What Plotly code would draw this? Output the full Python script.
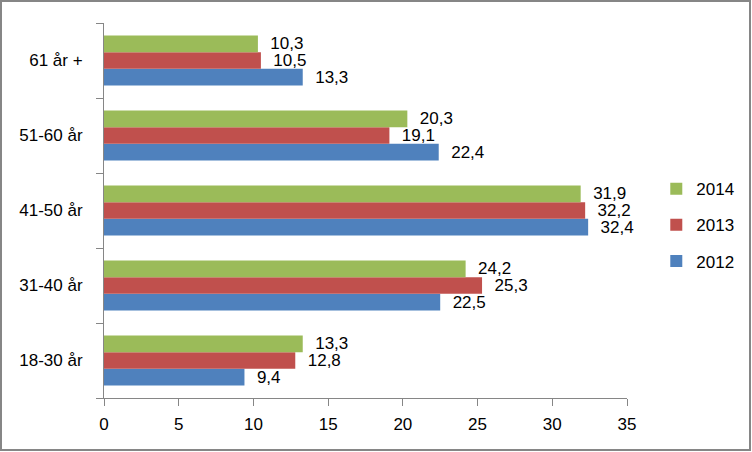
import plotly.graph_objects as go

categories = ["18-30 år", "31-40 år", "41-50 år", "51-60 år", "61 år +"]
series_names = ["2012", "2013", "2014"]
v2012 = [9.4, 22.5, 32.4, 22.4, 13.3]
v2013 = [12.8, 25.3, 32.2, 19.1, 10.5]
v2014 = [13.3, 24.2, 31.9, 20.3, 10.3]
x_ticks = [0, 5, 10, 15, 20, 25, 30, 35]

colors = ["#4F81BD", "#C0504D", "#9BBB59"]
FONT = "Liberation Sans"

fig = go.Figure()
for i, (name, vals) in enumerate(zip(series_names, [v2012, v2013, v2014])):
    fig.add_trace(go.Bar(
        y=categories, x=vals, orientation="h", name=name,
        marker=dict(color=colors[i], line=dict(width=0)),
        text=["  " + f"{v:.1f}".replace(".", ",") for v in vals],
        textposition="outside", cliponaxis=False, constraintext="none",
        textfont=dict(family=FONT, size=17, color="#000000"),
        legendgroup=name, legendrank=3 - i,
    ))

W, H = 752, 452
ml, mr, mt, mb = 104, 125, 23, 54
pw, ph = W - ml - mr, H - mt - mb

fig.update_layout(
    width=W, height=H,
    margin=dict(l=ml, r=mr, t=mt, b=mb, autoexpand=False),
    paper_bgcolor="white", plot_bgcolor="white",
    barmode="group", bargap=1/3, bargroupgap=0,
    font=dict(family=FONT, size=17, color="#000000"),
    showlegend=True,
    legend=dict(traceorder="grouped", x=1.056, y=0.605, xanchor="left", yanchor="top",
                font=dict(family=FONT, size=17), tracegroupgap=11,
                bgcolor="rgba(0,0,0,0)"),
    xaxis=dict(range=[0, 35], tickvals=x_ticks, showgrid=False, zeroline=False,
               showline=True, linecolor="#868686", linewidth=1, automargin=False,
               ticks="outside", ticklen=7, tickcolor="#868686",
               tickfont=dict(family=FONT, size=17), ticklabelstandoff=4),
    yaxis=dict(type="category", showgrid=False, zeroline=False, automargin=False,
               showline=True, linecolor="#868686", linewidth=1,
               ticks="outside", ticklen=7, tickcolor="#868686", tickson="boundaries",
               tickfont=dict(family=FONT, size=17), ticklabelstandoff=17),
)

fig.add_shape(type="rect", xref="paper", yref="paper",
              x0=(1 - ml) / pw, x1=(W - 2 - ml) / pw,
              y0=(H - mb - (H - 2)) / ph, y1=(H - mb - 1) / ph,
              line=dict(color="#868686", width=2), fillcolor="rgba(0,0,0,0)", layer="below")

fig.write_html("out.html", config={"displayModeBar": False},
               post_script="document.body.style.margin='0';document.body.style.overflow='hidden';")
